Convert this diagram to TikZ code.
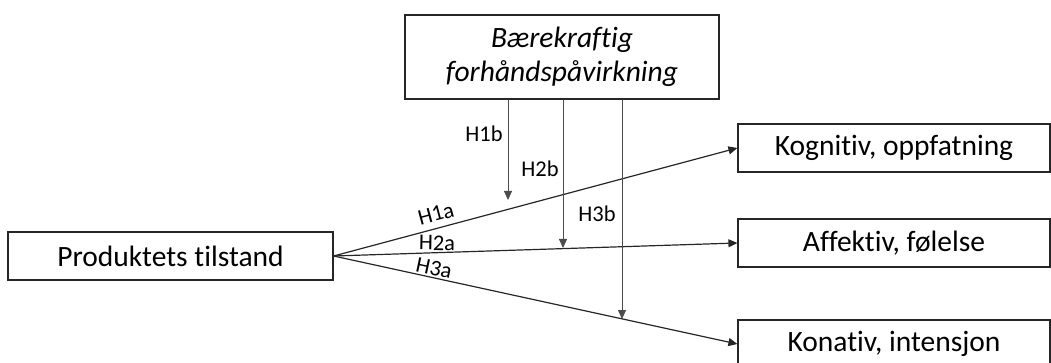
\documentclass[tikz,border=0pt]{standalone}
\usepackage{fontspec}
\setmainfont[Ligatures=NoCommon]{Carlito}
\usetikzlibrary{arrows.meta}
\begin{document}
\begin{tikzpicture}[x=1pt,y=-1pt,
  box/.style={draw=black!85, line width=1.2pt, inner sep=0pt, align=center,
    font=\fontsize{29.5}{35}\selectfont},
  arr/.style={line width=1.2pt, draw=black!85, -{Triangle[length=9pt,width=8pt]}},
  vlink/.style={line width=0.8pt, draw=black!70, -{Triangle[length=9pt,width=8pt]}},
  hlab/.style={inner sep=0pt, font=\fontsize{22.5}{22.5}\selectfont}]
\useasboundingbox (0,0) rectangle (1051,363);
\clip (0,0) rectangle (1051,363);
\node[box, minimum width=314pt, minimum height=84pt, font=\fontsize{29.5}{34}\selectfont\itshape] (top) at (562,57) {Bærekraftig\\forhåndspåvirkning};
\node[box, minimum width=325pt, minimum height=48pt] (src) at (170.5,256) {Produktets tilstand};
\node[box, minimum width=312pt, minimum height=48pt] (k) at (894,148) {Kognitiv, oppfatning};
\node[box, minimum width=312pt, minimum height=48pt] (a) at (894,243) {Affektiv, følelse};
\node[box, minimum width=312pt, minimum height=48pt] (c) at (894,344) {Konativ, intensjon};
\draw[arr] (src.east) -- (k.west);
\draw[arr] (src.east) -- (a.west);
\draw[arr] (src.east) -- (c.west);
\coordinate (v1e) at (508,200);
\coordinate (v2e) at (563,248);
\coordinate (v3e) at (622,319);
\draw[vlink] (top.south -| v1e) -- (v1e);
\draw[vlink] (top.south -| v2e) -- (v2e);
\draw[vlink] (top.south -| v3e) -- (v3e);
\node[hlab] (h1b) at (484,134) {H1b};
\node[hlab] (h2b) at (540,169) {H2b};
\node[hlab] (h3b) at (597,214) {H3b};
\node[hlab, rotate=15] (h1a) at (436,214) {H1a};
\node[hlab, rotate=-1] (h2a) at (437,243) {H2a};
\node[hlab, rotate=-12] (h3a) at (434,268) {H3a};
\end{tikzpicture}
\end{document}
